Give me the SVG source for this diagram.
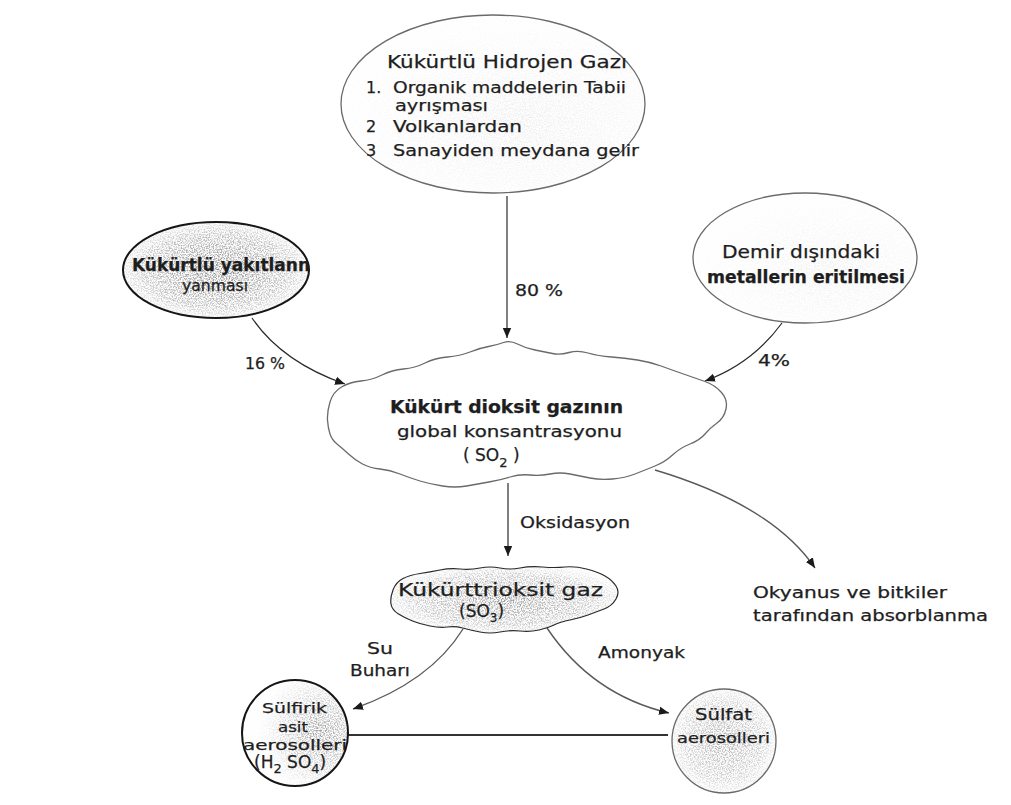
<svg xmlns="http://www.w3.org/2000/svg" width="1011" height="805" viewBox="0 0 1011 805">
  <style>
    text { font-family: "DejaVu Sans", "Liberation Sans", sans-serif; fill: #1e1e1e; font-size: 17px; stroke: #1e1e1e; stroke-width: 0.25; }
    .b { font-weight: bold; }
    .md { font-size: 16px; }
    .sm { font-size: 15px; }
    .xs { font-size: 14px; }
    .edge { fill: none; stroke: #2a2a2a; stroke-width: 1.2; }
    .line { fill: none; stroke: #5a5a5a; stroke-width: 1.4; }
    .thick { fill: none; stroke: #151515; stroke-width: 2; }
    .thin { fill: none; stroke: #6a6a6a; stroke-width: 1.3; }
  </style>
  <defs>
    <marker id="arrow" markerUnits="userSpaceOnUse" markerWidth="12" markerHeight="10" refX="10" refY="5" orient="auto">
      <path d="M0,0.8 L10,5 L0,9.2 Z" fill="#1a1a1a"/>
    </marker>
    <!-- speckled print texture for shaded shapes -->
    <filter id="grain" x="0" y="0" width="1" height="1" color-interpolation-filters="sRGB">
      <feTurbulence type="fractalNoise" baseFrequency="0.75" numOctaves="2" seed="7" result="n"/>
      <feColorMatrix in="n" type="matrix" values="0 0 0 0 0  0 0 0 0 0  0 0 0 0 0  3.4 0 0 0 -1.35" result="m"/>
      <feComposite in="SourceGraphic" in2="m" operator="in"/>
    </filter>
    <radialGradient id="gHeavy" cx="0.5" cy="0.5" r="0.55">
      <stop offset="0" stop-color="#808080" stop-opacity="0.95"/>
      <stop offset="0.7" stop-color="#a0a0a0" stop-opacity="0.65"/>
      <stop offset="1" stop-color="#c4c4c4" stop-opacity="0.2"/>
    </radialGradient>
    <radialGradient id="gLight" cx="0.6" cy="0.6" r="0.6">
      <stop offset="0" stop-color="#a0a0a0" stop-opacity="0.55"/>
      <stop offset="1" stop-color="#c8c8c8" stop-opacity="0.15"/>
    </radialGradient>
    <radialGradient id="gSide" cx="0.75" cy="0.5" r="0.6">
      <stop offset="0" stop-color="#8c8c8c" stop-opacity="0.9"/>
      <stop offset="0.6" stop-color="#aaaaaa" stop-opacity="0.45"/>
      <stop offset="1" stop-color="#cccccc" stop-opacity="0.05"/>
    </radialGradient>
  </defs>

  <rect width="1011" height="805" fill="#ffffff"/>

  <!-- connectors -->
  <g id="connectors">
    <path class="edge" d="M507,196 L507,338" marker-end="url(#arrow)"/>
    <path class="edge" d="M252,318 Q282,362 345,384" marker-end="url(#arrow)"/>
    <path class="edge" d="M782,323 Q752,364 705,381" marker-end="url(#arrow)"/>
    <path class="edge" d="M508,483 L508,556" marker-end="url(#arrow)"/>
    <path class="line" d="M655,470 Q772,505 815,568" marker-end="url(#arrow)"/>
    <path class="line" d="M463,629 Q430,682 353,709" marker-end="url(#arrow)"/>
    <path class="line" d="M547,628 Q592,695 669,713" marker-end="url(#arrow)"/>
    <path d="M348,735 L668,735" fill="none" stroke="#333" stroke-width="1.8"/>
    <text class="sm" x="515" y="296" textLength="48" lengthAdjust="spacingAndGlyphs">80 %</text>
    <text class="sm" x="245" y="369" textLength="40" lengthAdjust="spacingAndGlyphs">16 %</text>
    <text class="sm" x="758" y="366" textLength="32" lengthAdjust="spacingAndGlyphs">4%</text>
    <text class="sm" x="520" y="528" textLength="110" lengthAdjust="spacingAndGlyphs">Oksidasyon</text>
    <text class="sm" x="367" y="654" textLength="26" lengthAdjust="spacingAndGlyphs">Su</text>
    <text class="sm" x="350" y="676" textLength="60" lengthAdjust="spacingAndGlyphs">Buharı</text>
    <text class="sm" x="598" y="658" textLength="87" lengthAdjust="spacingAndGlyphs">Amonyak</text>
  </g>

  <!-- hydrogen sulphide sources -->
  <g id="node-h2s">
    <ellipse cx="493" cy="104" rx="152" ry="89" fill="url(#gLight)" filter="url(#grain)" opacity="0.35"/>
    <ellipse cx="493" cy="104" rx="152" ry="89" class="thin"/>
    <text x="387" y="68" textLength="240" lengthAdjust="spacingAndGlyphs">Kükürtlü  Hidrojen  Gazı</text>
    <text class="md" x="366" y="93">1.</text>
    <text class="md" x="393" y="93" textLength="233" lengthAdjust="spacingAndGlyphs">Organik maddelerin Tabii</text>
    <text class="md" x="395" y="111" textLength="93" lengthAdjust="spacingAndGlyphs">ayrışması</text>
    <text class="md" x="366" y="132">2</text>
    <text class="md" x="393" y="132" textLength="129" lengthAdjust="spacingAndGlyphs">Volkanlardan</text>
    <text class="md" x="366" y="156">3</text>
    <text class="md" x="393" y="156" textLength="246" lengthAdjust="spacingAndGlyphs">Sanayiden  meydana  gelir</text>
  </g>

  <!-- fuel combustion -->
  <g id="node-fuel">
    <ellipse cx="216" cy="270" rx="93" ry="48" fill="url(#gHeavy)" filter="url(#grain)"/>
    <ellipse cx="216" cy="270" rx="93" ry="48" class="thick" stroke-width="1.8"/>
    <text class="b" x="132" y="271" textLength="178" lengthAdjust="spacingAndGlyphs">Kükürtlü yakıtlann</text>
    <text x="182" y="291" class="sm" textLength="66" lengthAdjust="spacingAndGlyphs">yanması</text>
  </g>

  <!-- non-ferrous smelting -->
  <g id="node-smelting">
    <ellipse cx="805" cy="258" rx="112" ry="65" fill="url(#gLight)" filter="url(#grain)" opacity="0.3"/>
    <ellipse cx="805" cy="258" rx="112" ry="65" class="thin"/>
    <text x="722" y="258" textLength="158" lengthAdjust="spacingAndGlyphs">Demir  dışındaki</text>
    <text class="b" x="707" y="283" textLength="198" lengthAdjust="spacingAndGlyphs">metallerin eritilmesi</text>
  </g>

  <!-- sulphur dioxide cloud -->
  <g id="node-so2">
    <path class="thin" stroke="#5c5c5c" stroke-width="1.5" fill="#ffffff" d="M327.5,420 Q327,412 330,402 Q333,392 341.5,387 Q350,382 361,381 Q372,380 382,375 Q392,370 403.5,369 Q415,368 425,363 Q435,358 447.5,357 Q460,356 470,352 Q480,348 488.5,346.5 Q497,345 503.5,342.5 Q510,340 517.5,344 Q525,348 535,350 Q545,352 552.5,353.5 Q560,355 569,352.5 Q578,350 588,353 Q598,356 611.5,357 Q625,358 637.5,360 Q650,362 661,366 Q672,370 683.5,374 Q695,378 705,381.5 Q715,385 721.5,392.5 Q728,400 726,409 Q724,418 717,423 Q710,428 705,434 Q700,440 690,444 Q680,448 672.5,455 Q665,462 655,466 Q645,470 635,474 Q625,478 612.5,479 Q600,480 590,478 Q580,476 570,474 Q560,472 550,474 Q540,476 530,475 Q520,474 510,477 Q500,480 489,482 Q478,484 466.5,486 Q455,488 442.5,486 Q430,484 420,481 Q410,478 400,474 Q390,470 380,469 Q370,468 362.5,464 Q355,460 348.5,454 Q342,448 337,444 Q332,440 330,434 Q328,428 327.5,420 Z"/>
    <text class="b" x="390" y="413" textLength="233" lengthAdjust="spacingAndGlyphs">Kükürt dioksit  gazının</text>
    <text x="397" y="437" class="sm" textLength="225" lengthAdjust="spacingAndGlyphs">global    konsantrasyonu</text>
    <text x="463" y="461" font-size="19">( SO<tspan font-size="13" dy="6">2</tspan><tspan dy="-6"> )</tspan></text>
  </g>

  <!-- sulphur trioxide cloud -->
  <g id="node-so3">
    <path fill="url(#gHeavy)" filter="url(#grain)" opacity="0.85" d="M391,604 Q390,598 393,590 Q396,582 403,578.5 Q410,575 420,573.5 Q430,572 440,570 Q450,568 460,569 Q470,570 480,568 Q490,566 500,568 Q510,570 520,568 Q530,566 542.5,567 Q555,568 565,567 Q575,566 586.5,569 Q598,572 605,576 Q612,580 616,586 Q620,592 616,599 Q612,606 604,609 Q596,612 588,615 Q580,618 570,620 Q560,622 554,625 Q548,628 539,630 Q530,632 520,631 Q510,630 500,632 Q490,634 480,632 Q470,630 462.5,628 Q455,626 447.5,627 Q440,628 430,626 Q420,624 412.5,621 Q405,618 398.5,614 Q392,610 391,604 Z"/>
    <path class="edge" stroke-width="1.3" d="M391,604 Q390,598 393,590 Q396,582 403,578.5 Q410,575 420,573.5 Q430,572 440,570 Q450,568 460,569 Q470,570 480,568 Q490,566 500,568 Q510,570 520,568 Q530,566 542.5,567 Q555,568 565,567 Q575,566 586.5,569 Q598,572 605,576 Q612,580 616,586 Q620,592 616,599 Q612,606 604,609 Q596,612 588,615 Q580,618 570,620 Q560,622 554,625 Q548,628 539,630 Q530,632 520,631 Q510,630 500,632 Q490,634 480,632 Q470,630 462.5,628 Q455,626 447.5,627 Q440,628 430,626 Q420,624 412.5,621 Q405,618 398.5,614 Q392,610 391,604 Z"/>
    <text x="398" y="596" textLength="205" lengthAdjust="spacingAndGlyphs">Kükürttrioksit  gaz</text>
    <text x="459" y="617" font-size="18">(SO<tspan font-size="12" dy="5">3</tspan><tspan dy="-5">)</tspan></text>
  </g>

  <!-- ocean and plant uptake -->
  <g id="node-absorption">
    <text class="sm" x="753" y="598" textLength="194" lengthAdjust="spacingAndGlyphs">Okyanus  ve  bitkiler</text>
    <text class="sm" x="753" y="621" textLength="235" lengthAdjust="spacingAndGlyphs">tarafından  absorblanma</text>
  </g>

  <!-- sulphuric acid aerosols -->
  <g id="node-h2so4">
    <circle cx="295" cy="733" r="53" fill="url(#gSide)" filter="url(#grain)"/>
    <circle cx="295" cy="733" r="53" class="thick"/>
    <text class="xs" x="262" y="713" textLength="65" lengthAdjust="spacingAndGlyphs">Sülfirik</text>
    <text class="xs" x="278" y="732" textLength="30" lengthAdjust="spacingAndGlyphs">asit</text>
    <text class="xs" x="243" y="750" textLength="104" lengthAdjust="spacingAndGlyphs">aerosolleri</text>
    <text x="254" y="768" font-size="16">(H<tspan font-size="13" dy="5">2</tspan><tspan dy="-5"> SO</tspan><tspan font-size="13" dy="5">4</tspan><tspan dy="-5">)</tspan></text>
  </g>

  <!-- sulphate aerosols -->
  <g id="node-sulfate">
    <circle cx="724" cy="741" r="52" fill="url(#gHeavy)" filter="url(#grain)" opacity="0.7"/>
    <circle cx="724" cy="741" r="52" class="thin"/>
    <text class="sm" x="695" y="720" textLength="57" lengthAdjust="spacingAndGlyphs">Sülfat</text>
    <text class="xs" x="677" y="743" textLength="93" lengthAdjust="spacingAndGlyphs">aerosolleri</text>
  </g>
</svg>
